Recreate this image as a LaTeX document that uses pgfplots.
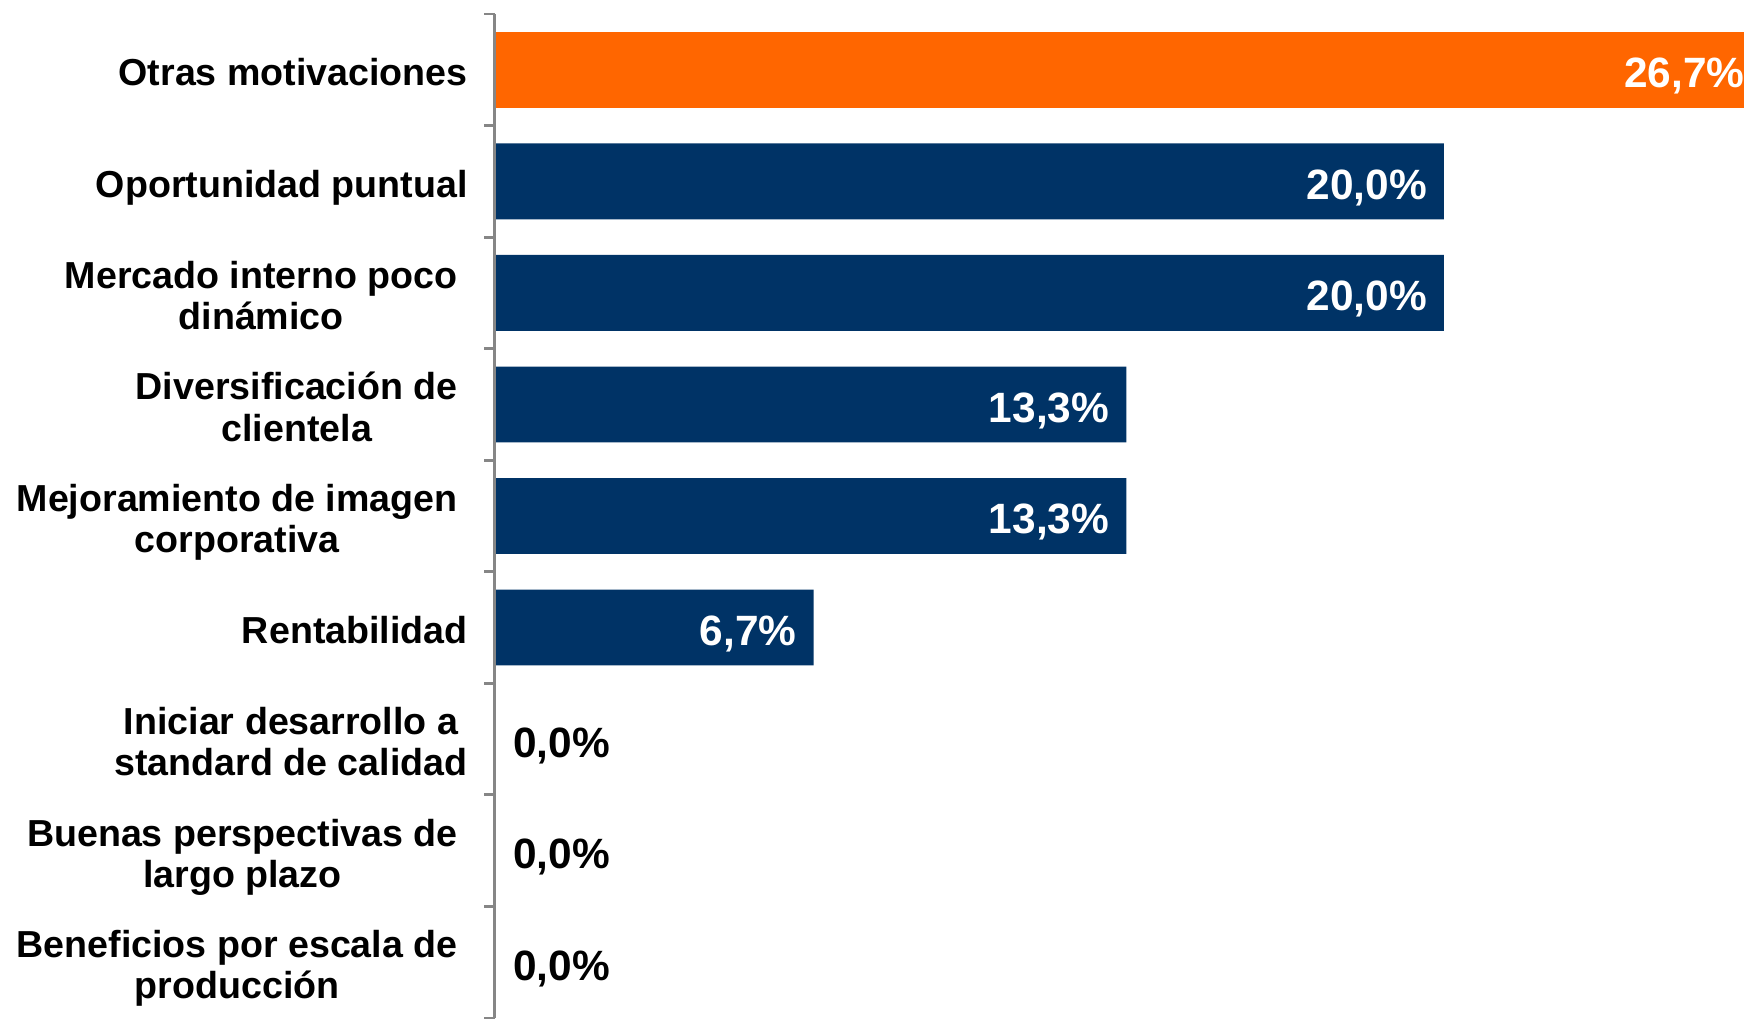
\documentclass[border=0pt]{standalone}
\usepackage{fontspec}
\setmainfont{Liberation Sans}
\usepackage{pgfplots}
\pgfplotsset{compat=1.18}
\definecolor{barorange}{RGB}{255,102,0}
\definecolor{barblue}{RGB}{0,51,102}
\definecolor{axisgray}{RGB}{134,134,134}
\newcommand{\lab}[1]{\begin{tabular}{@{}c@{}}#1\end{tabular}}
\begin{document}
\begin{tikzpicture}
\useasboundingbox (-248pt,0pt) rectangle (624pt,509pt);
\begin{axis}[
  at={(0,0)}, anchor=south west,
  scale only axis, width=624pt, height=502pt,
  xbar, bar width=0.68, bar shift=0pt,
  xmin=0, xmax=26.33, ymin=-0.5, ymax=8.5,
  axis x line=none, axis y line*=left,
  y axis line style={draw=none},
  ytick={0,...,8},
  yticklabels={
    {\lab{Beneficios por escala de\\producción}\kern5pt},
    {\lab{Buenas perspectivas de\\largo plazo}\kern5pt},
    {\lab{Iniciar desarrollo a\\standard de calidad}},
    {\lab{Rentabilidad}},
    {\lab{Mejoramiento de imagen\\corporativa}\kern5pt},
    {\lab{Diversificación de\\clientela}\kern5pt},
    {\lab{Mercado interno poco\\dinámico}\kern5pt},
    {\lab{Oportunidad puntual}},
    {\lab{Otras motivaciones}}
  },
  major tick length=0pt,
  yticklabel style={anchor=east, inner sep=0pt, xshift=-14pt, yshift=-3.9pt,
    font=\fontsize{18.8}{20.6}\selectfont\bfseries},
  clip=false,
  point meta=x,
  nodes near coords={\pgfmathprintnumber[fixed,fixed zerofill,precision=1,use comma,assume math mode=true]{\pgfplotspointmeta}\%},
  every node near coord/.append style={font=\fontsize{21.2}{25}\selectfont\bfseries, inner sep=0pt},
]
\addplot[fill=barorange, draw=none,
  every node near coord/.append style={anchor=east, xshift=-8.4pt, yshift=-3.2pt, text=white}]
  coordinates {(26.7,8)};
\addplot[fill=barblue, draw=none,
  every node near coord/.append style={anchor=east, xshift=-8.4pt, yshift=-3.2pt, text=white}]
  coordinates {(20,7) (20,6) (13.3,5) (13.3,4) (6.7,3)};
\addplot[fill=none, draw=none,
  every node near coord/.append style={anchor=west, xshift=8.4pt, yshift=-3.2pt, text=black}]
  coordinates {(0,2) (0,1) (0,0)};
\draw[axisgray, line width=1.4pt] ([xshift=-0.7pt]rel axis cs:0,0) -- ([xshift=-0.7pt]rel axis cs:0,1);
\pgfplotsinvokeforeach{-0.5,0.5,1.5,2.5,3.5,4.5,5.5,6.5,7.5,8.5}{
  \draw[axisgray, line width=1.4pt] ([xshift=-0.7pt]axis cs:0,#1) -- ([xshift=-6.2pt]axis cs:0,#1);
}
\end{axis}
\end{tikzpicture}
\end{document}
